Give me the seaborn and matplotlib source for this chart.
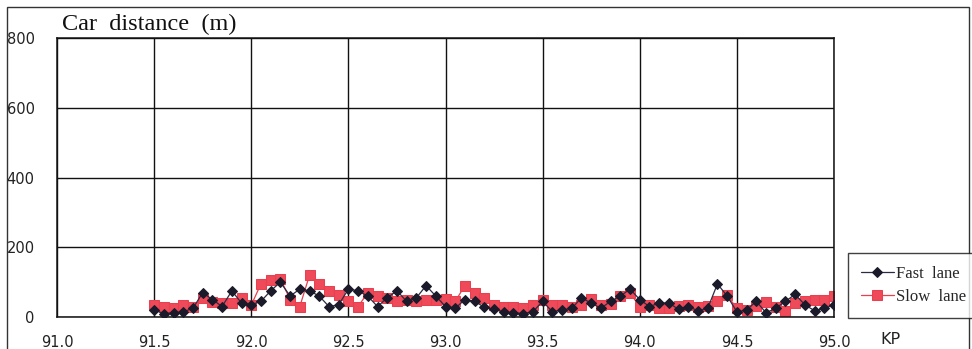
import matplotlib
matplotlib.use("Agg")
import matplotlib.pyplot as plt
import seaborn as sns
import pandas as pd
from matplotlib.patches import Rectangle

kp = [91.50, 91.55, 91.60, 91.65, 91.70, 91.75, 91.80, 91.85, 91.90, 91.95,
      92.00, 92.05, 92.10, 92.15, 92.20, 92.25, 92.30, 92.35, 92.40, 92.45,
      92.50, 92.55, 92.60, 92.65, 92.70, 92.75, 92.80, 92.85, 92.90, 92.95,
      93.00, 93.05, 93.10, 93.15, 93.20, 93.25, 93.30, 93.35, 93.40, 93.45,
      93.50, 93.55, 93.60, 93.65, 93.70, 93.75, 93.80, 93.85, 93.90, 93.95,
      94.00, 94.05, 94.10, 94.15, 94.20, 94.25, 94.30, 94.35, 94.40, 94.45,
      94.50, 94.55, 94.60, 94.65, 94.70, 94.75, 94.80, 94.85, 94.90, 94.95,
      95.00]
fast_lane = [20, 10, 12, 15, 25, 70, 50, 30, 75, 40,
             35, 45, 75, 100, 60, 80, 75, 60, 30, 35,
             80, 75, 60, 30, 55, 75, 45, 55, 90, 60,
             30, 25, 50, 45, 28, 22, 15, 12, 10, 15,
             45, 15, 20, 25, 55, 40, 25, 45, 60, 80,
             50, 30, 40, 40, 22, 30, 18, 25, 95, 60,
             15, 20, 45, 12, 25, 45, 65, 35, 18, 25,
             35]
slow_lane = [34, 29, 26, 34, 29, 54, 43, 40, 40, 54,
             34, 95, 105, 110, 50, 30, 120, 95, 75, 62,
             45, 30, 70, 60, 55, 45, 50, 45, 48, 50,
             52, 45, 90, 70, 55, 35, 30, 28, 25, 35,
             50, 35, 35, 28, 34, 52, 35, 38, 60, 70,
             28, 35, 26, 25, 32, 34, 28, 32, 45, 62,
             25, 20, 32, 43, 30, 18, 40, 45, 48, 50,
             60]
x_ticks = [91.0, 91.5, 92.0, 92.5, 93.0, 93.5, 94.0, 94.5, 95.0]
x_tick_labels = ["91.0", "91.5", "92.0", "92.5", "93.0", "93.5", "94.0", "94.5", "95.0"]
y_ticks = [0, 200, 400, 600, 800]

df_fast = pd.DataFrame({"kp": kp, "dist": fast_lane})
df_slow = pd.DataFrame({"kp": kp, "dist": slow_lane})

sns.set_style("white")
fig = plt.figure(figsize=(9.72, 3.49), dpi=100)
ax = fig.add_axes([57/972, 1-317/349, (834-57)/972, (317-38)/349])

sns.lineplot(data=df_fast, x="kp", y="dist", ax=ax, color="#2b2b45", lw=0.9,
             marker="D", markersize=5.5, markeredgecolor="#1a1a2a",
             markerfacecolor="#1a1a2a", label="Fast  lane", zorder=3)
sns.lineplot(data=df_slow, x="kp", y="dist", ax=ax, color="#e8404f", lw=0.9,
             marker="s", markersize=7, markeredgecolor="#e8404f",
             markerfacecolor="#ef4a5a", label="Slow  lane", zorder=2)

ax.set_xlim(91.0, 95.0)
ax.set_ylim(0, 800)
ax.set_xticks(x_ticks)
ax.set_xticklabels(x_tick_labels)
ax.set_yticks(y_ticks)
ax.grid(True, color="#111111", lw=1.0)
for s in ax.spines.values():
    s.set_color("#111111")
    s.set_linewidth(1.1)
ax.tick_params(axis="both", length=0, labelsize=10.5, colors="#222222")
ax.tick_params(axis="x", pad=13)
ax.tick_params(axis="y", pad=16)
ax.set_xlabel("")
ax.set_ylabel("")

fig.text(62/972, 1-24/349, "Car  distance  (m)", family="Liberation Serif",
         fontsize=17.5, va="center", ha="left", color="#111111")
fig.text(880/972, 1-340/349, "KP", fontsize=11.5, va="center", ha="left",
         color="#222222")

ax.get_legend().remove()
h, l = ax.get_legend_handles_labels()
leg = fig.legend(h, l, loc="upper left", bbox_to_anchor=(848/972, 1-253/349),
                 frameon=True, fancybox=False, edgecolor="#111111",
                 prop={"family": "Liberation Serif", "size": 12},
                 handlelength=2.0, handletextpad=0.1, borderpad=0.75,
                 labelspacing=0.45, borderaxespad=0)
leg.get_frame().set_linewidth(1.0)

fig.patches.append(Rectangle((7/972, -0.05), (969-7)/972, 1.05-7/349,
                             transform=fig.transFigure, fill=False,
                             edgecolor="#333333", lw=1.0))

fig.savefig("out.png", dpi=100)
